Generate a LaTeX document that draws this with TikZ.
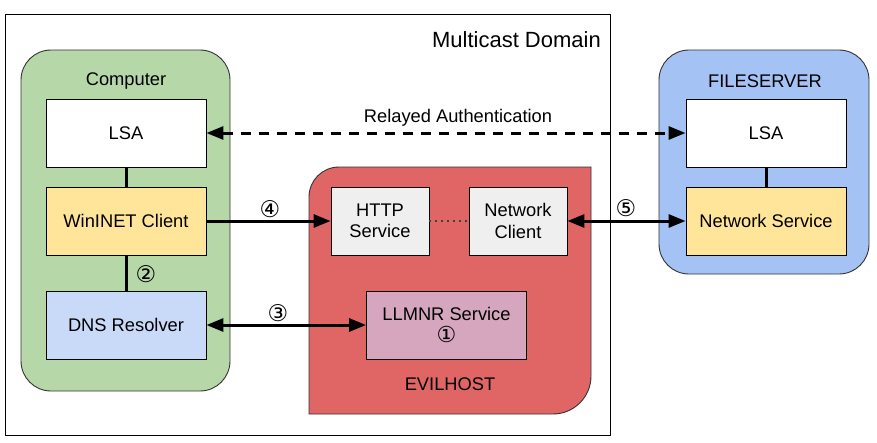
\documentclass[tikz,border=0pt]{standalone}
\usepackage{fontspec}
\setmainfont{Liberation Sans}
\newfontfamily\dvfont{DejaVu Sans}
\usetikzlibrary{arrows.meta}
\definecolor{cgreen}{HTML}{B6D7A8}
\definecolor{cblue}{HTML}{A4C2F4}
\definecolor{cred}{HTML}{E06666}
\definecolor{cpink}{HTML}{D5A6BD}
\definecolor{cyellow}{HTML}{FFE599}
\definecolor{clblue}{HTML}{C9DAF8}
\definecolor{cgray}{HTML}{EFEFEF}
\definecolor{cborder}{HTML}{333333}
\tikzset{
  mytip/.tip={Triangle[length=17pt,width=13pt]},
  lbl/.style={font=\fontsize{18.3}{21.5}\selectfont, text=black, inner sep=0pt, align=center},
  num/.style={font=\dvfont\fontsize{23}{24}\selectfont, text=black, inner sep=0pt},
  box/.style={draw=black, line width=0.9pt, minimum width=160pt, minimum height=68pt, inner sep=0pt,
    font=\fontsize{18.3}{21.5}\selectfont, align=center},
  sbox/.style={box, minimum width=98pt, fill=cgray},
  container/.style={draw=cborder, line width=0.9pt, rounded corners=30pt, inner sep=0pt},
  conn/.style={line width=3pt},
}
\begin{document}
\begin{tikzpicture}[x=1pt,y=-1pt]
\useasboundingbox (0,0) rectangle (877,442);
% multicast domain
\node[draw=black, line width=1pt, minimum width=605pt, minimum height=421pt, inner sep=0pt] (mcast) at (307.5,224.5) {};
\node[lbl, anchor=east, font=\fontsize{22}{26}\selectfont] (mcastlbl) at (601,40) {Multicast Domain};
% containers
\node[container, fill=cgreen, minimum width=209pt, minimum height=341pt] (computer) at (125.5,220.5) {};
\node[container, fill=cblue, minimum width=210pt, minimum height=224pt] (fileserver) at (764,162) {};
\draw[draw=cborder, line width=0.9pt, fill=cred]
  (309,414) -- (309,197) .. controls (309,180.4) and (322.4,167) .. (339,167)
  -- (591,167) -- (591,376) .. controls (591,397) and (574,414) .. (553,414) -- cycle;
\node[lbl] (computerlbl) at (126,81) {Computer};
\node[lbl] (fslbl) at (765,81) {FILESERVER};
\node[lbl] (evillbl) at (450,384) {EVILHOST};
% boxes
\node[box, fill=white] (lsa1) at (126,133) {LSA};
\node[box, fill=cyellow] (winnet) at (126,221) {WinINET Client};
\node[box, fill=clblue] (dns) at (126,325) {DNS Resolver};
\node[sbox] (http) at (380,221) {HTTP\\Service};
\node[sbox] (nclient) at (518,221) {Network\\Client};
\node[box, fill=cpink] (llmnr) at (446.5,325) {LLMNR Service\\{\dvfont\fontsize{22}{21.5}\selectfont ①}};
\node[box, fill=white] (lsa2) at (766,133) {LSA};
\node[box, fill=cyellow] (nservice) at (766,221) {Network Service};
% connectors
\draw[conn] (lsa1) -- (winnet);
\draw[conn] (winnet) -- (dns);
\draw[conn] (lsa2) -- (nservice);
\draw[conn, dash pattern=on 10pt off 8pt, {mytip}-{mytip}] (lsa1.east) -- (lsa2.west);
\draw[conn, -{mytip}] (winnet.east) -- (http.west);
\draw[conn, {mytip}-{mytip}] (dns.east) -- (llmnr.west);
\draw[conn, {mytip}-{mytip}] (nclient.east) -- (nservice.west);
\draw[line width=1.5pt, black!75, dash pattern=on 1.5pt off 4.5pt] (http.east) -- (nclient.west);
% labels
\node[lbl] (relay) at (458,118) {Relayed Authentication};
\node[num] (n2) at (146,274) {②};
\node[num] (n3) at (278,313) {③};
\node[num] (n4) at (270,209) {④};
\node[num] (n5) at (626,208) {⑤};
\end{tikzpicture}
\end{document}
